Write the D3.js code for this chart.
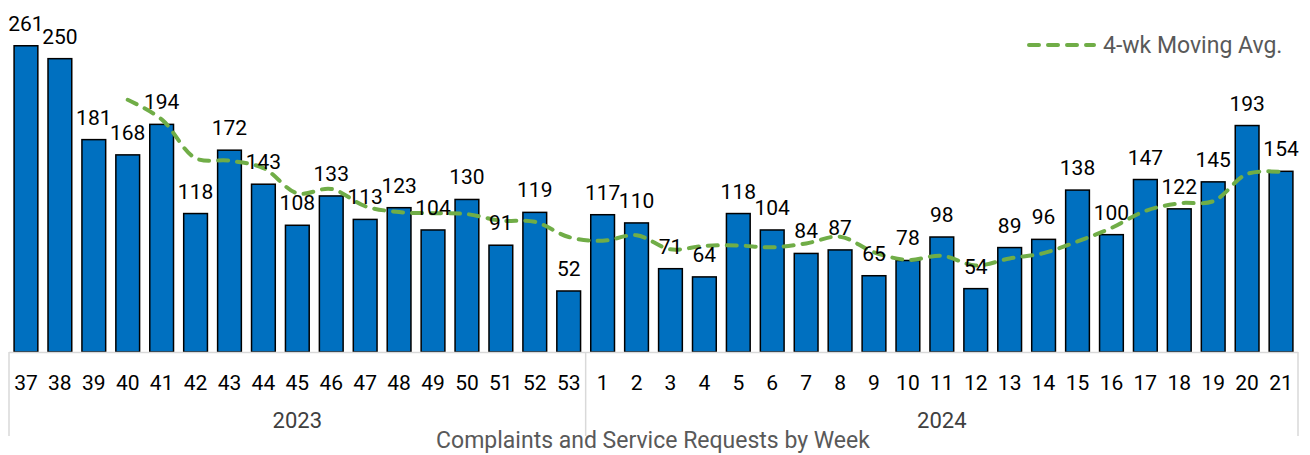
<!DOCTYPE html>
<html>
<head>
<meta charset="utf-8">
<script src="https://cdn.jsdelivr.net/npm/d3@7"></script>
<style>
  body { margin: 0; background: #fff; }
  svg { display: block; font-family: Roboto, "Noto Sans", sans-serif; }
</style>
</head>
<body>
<div id="chart"></div>
<script>
// week labels per year
const weeks2023 = [37, 38, 39, 40, 41, 42, 43, 44, 45, 46, 47, 48, 49, 50, 51, 52, 53];
const weeks2024 = [1, 2, 3, 4, 5, 6, 7, 8, 9, 10, 11, 12, 13, 14, 15, 16, 17, 18, 19, 20, 21];
const years = ["2023", "2024"];

// complaints + service requests per week
const counts = [261, 250, 181, 168, 194, 118, 172, 143, 108, 133, 113, 123, 104, 130, 91, 119, 52,
                117, 110, 71, 64, 118, 104, 84, 87, 65, 78, 98, 54, 89, 96, 138, 100, 147, 122, 145, 193, 154];

// 4-wk moving average, starts at week 40
const movingAvg = [null, null, null, 215, 198.25, 165.25, 163, 156.75, 135.25, 139, 124.25, 119.25,
                   118.25, 117.5, 112, 111, 98, 94.75, 99.5, 87.5, 90.5, 90.75, 89.25, 92.5, 98.25,
                   85, 78.5, 82, 73.75, 79.75, 84.25, 94.25, 105.75, 120.25, 126.75, 128.5, 151.75, 153.5];

const width = 1310, height = 455;
const left = 9, right = 1298, baseY = 352;

const cats = weeks2023.map(w => "2023-" + w).concat(weeks2024.map(w => "2024-" + w));
const data = cats.map((c, i) => ({ key: c, label: c.split("-")[1], value: counts[i], avg: movingAvg[i] }));

const svg = d3.select("#chart").append("svg")
    .attr("width", width)
    .attr("height", height);

const x = d3.scaleBand()
    .domain(cats)
    .range([left, right])
    .paddingInner(0.3)
    .paddingOuter(0.15);

const y = d3.scaleLinear()
    .domain([0, 300])
    .range([baseY, 0]);

// bars
svg.append("g").selectAll("rect")
    .data(data)
    .enter().append("rect")
    .attr("x", d => x(d.key))
    .attr("y", d => y(d.value))
    .attr("width", x.bandwidth())
    .attr("height", d => baseY - y(d.value))
    .attr("fill", "#0070C0")
    .attr("stroke", "#000")
    .attr("stroke-width", 1.5);

// moving average line
const line = d3.line()
    .defined(d => d.avg != null)
    .x(d => x(d.key) + x.bandwidth() / 2)
    .y(d => y(d.avg))
    .curve(d3.curveCatmullRom);

svg.append("path")
    .datum(data)
    .attr("d", line)
    .attr("fill", "none")
    .attr("stroke", "#70AD47")
    .attr("stroke-width", 4)
    .attr("stroke-linecap", "round")
    .attr("stroke-dasharray", "10,9");

// data labels
svg.append("g").selectAll("text")
    .data(data)
    .enter().append("text")
    .attr("x", d => x(d.key) + x.bandwidth() / 2)
    .attr("y", d => y(d.value) - 15)
    .attr("text-anchor", "middle")
    .attr("font-size", 21)
    .attr("fill", "#000")
    .text(d => d.value);

// category axis
const axis = svg.append("g");
axis.append("line")
    .attr("x1", left).attr("x2", right)
    .attr("y1", baseY + 0.5).attr("y2", baseY + 0.5)
    .attr("stroke", "#d9d9d9").attr("stroke-width", 1.5);

const yearBounds = [left, x(cats[weeks2023.length]) - x.step() * x.paddingInner() / 2, right];
yearBounds.forEach(bx => {
    axis.append("line")
        .attr("x1", bx).attr("x2", bx)
        .attr("y1", baseY).attr("y2", 436)
        .attr("stroke", "#d9d9d9").attr("stroke-width", 1.5);
});

axis.selectAll("text.wk")
    .data(data)
    .enter().append("text")
    .attr("class", "wk")
    .attr("x", d => x(d.key) + x.bandwidth() / 2)
    .attr("y", 390)
    .attr("text-anchor", "middle")
    .attr("font-size", 21)
    .attr("fill", "#000")
    .text(d => d.label);

axis.selectAll("text.yr")
    .data(years)
    .enter().append("text")
    .attr("class", "yr")
    .attr("x", (d, i) => (yearBounds[i] + yearBounds[i + 1]) / 2)
    .attr("y", 428)
    .attr("text-anchor", "middle")
    .attr("font-size", 22)
    .attr("fill", "#404040")
    .text(d => d);

// axis title
svg.append("text")
    .attr("x", 653)
    .attr("y", 448)
    .attr("text-anchor", "middle")
    .attr("font-size", 23)
    .attr("fill", "#595959")
    .text("Complaints and Service Requests by Week");

// legend
const legend = svg.append("g");
legend.append("line")
    .attr("x1", 1029).attr("x2", 1094)
    .attr("y1", 45).attr("y2", 45)
    .attr("stroke", "#70AD47")
    .attr("stroke-width", 4)
    .attr("stroke-linecap", "round")
    .attr("stroke-dasharray", "10,9");
legend.append("text")
    .attr("x", 1103)
    .attr("y", 53)
    .attr("font-size", 23)
    .attr("fill", "#595959")
    .text("4-wk Moving Avg.");
</script>
</body>
</html>
